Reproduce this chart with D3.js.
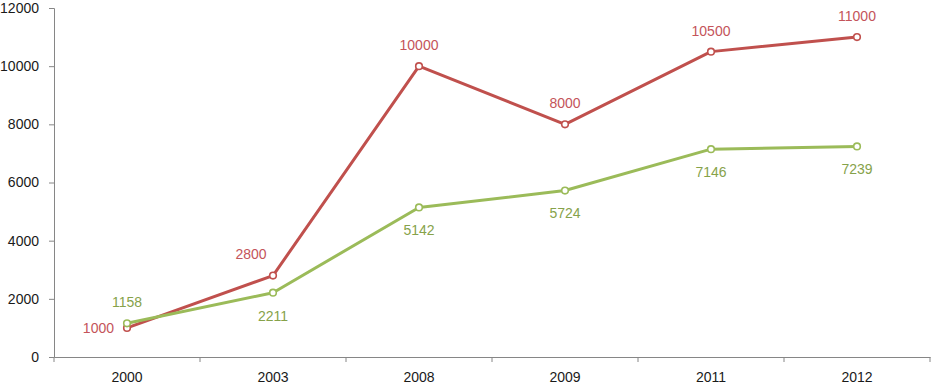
<!DOCTYPE html>
<html lang="en">
<head>
<meta charset="UTF-8">
<title>Line chart</title>
<script src="https://d3js.org/d3.v7.min.js"></script>
<style>
  body { margin: 0; background: #fff; }
  svg text { font-family: 'Liberation Sans', 'Open Sans', sans-serif; }
  .axis path, .axis line { stroke: #868686; }
  .axis text { fill: #1a1a1a; font-size: 14px; }
</style>
</head>
<body>
<div id="chart"></div>
<script>
// data
const years = ["2000", "2003", "2008", "2009", "2011", "2012"];
const redValues = [1000, 2800, 10000, 8000, 10500, 11000];
const greenValues = [1158, 2211, 5142, 5724, 7146, 7239];
const yTicks = [0, 2000, 4000, 6000, 8000, 10000, 12000];

// label placement per point
const redLabelPos = ["left", "aboveleft", "above", "above", "above", "above"];
const greenLabelPos = ["above", "below", "below", "below", "below", "below"];

const W = 931, H = 384;
const margin = { top: 8, right: 1, bottom: 27, left: 54 };
const width = W - margin.left - margin.right;
const height = H - margin.top - margin.bottom;

const svg = d3.select("#chart").append("svg")
  .attr("width", W).attr("height", H);
const g = svg.append("g").attr("transform", `translate(${margin.left},${margin.top})`);

const x = d3.scaleBand().domain(years).range([0, width]);
const y = d3.scaleLinear().domain([0, 12000]).range([height, 0]);
const cx = d => x(d) + x.bandwidth() / 2;

// y axis
g.append("g").attr("class", "axis")
  .call(d3.axisLeft(y).tickValues(yTicks).tickSize(5).tickPadding(10).tickFormat(d3.format("d")));

// x axis, ticks sit on the category boundaries
const xAxis = g.append("g").attr("class", "axis")
  .attr("transform", `translate(0,${height})`)
  .call(d3.axisBottom(x).tickSize(0).tickPadding(15));
xAxis.selectAll(".tick line").remove();
const bounds = years.map(d => x(d)).concat([width]);
xAxis.selectAll(".bound").data(bounds).enter().append("line")
  .attr("class", "bound")
  .attr("x1", d => d).attr("x2", d => d)
  .attr("y1", 0).attr("y2", 5)
  .attr("stroke", "#868686");

const series = [
  { values: redValues, color: "#c0504d", labelColor: "#c4545a", pos: redLabelPos },
  { values: greenValues, color: "#9bbb59", labelColor: "#86a24a", pos: greenLabelPos }
];

const line = d3.line().x((d, i) => cx(years[i])).y(d => y(d));

function labelX(p, d, i) {
  if (p === "left") return cx(years[i]) - 13;
  if (p === "aboveleft") return cx(years[i]) - 22;
  return cx(years[i]);
}
function labelY(p, d) {
  if (p === "above" || p === "aboveleft") return y(d) - 21;
  if (p === "below") return y(d) + 23;
  return y(d);
}

series.forEach(s => {
  g.append("path")
    .datum(s.values)
    .attr("fill", "none")
    .attr("stroke", s.color)
    .attr("stroke-width", 3)
    .attr("stroke-linejoin", "round")
    .attr("d", line);

  g.selectAll(null).data(s.values).enter().append("circle")
    .attr("cx", (d, i) => cx(years[i]))
    .attr("cy", d => y(d))
    .attr("r", 3.3)
    .attr("fill", "#fff")
    .attr("stroke", s.color)
    .attr("stroke-width", 1.6);

  g.selectAll(null).data(s.values).enter().append("text")
    .attr("x", (d, i) => labelX(s.pos[i], d, i))
    .attr("y", (d, i) => labelY(s.pos[i], d))
    .attr("dy", "0.35em")
    .attr("text-anchor", (d, i) => s.pos[i] === "left" ? "end" : "middle")
    .attr("fill", s.labelColor)
    .attr("font-size", 14)
    .text(d => d);
});
</script>
</body>
</html>
